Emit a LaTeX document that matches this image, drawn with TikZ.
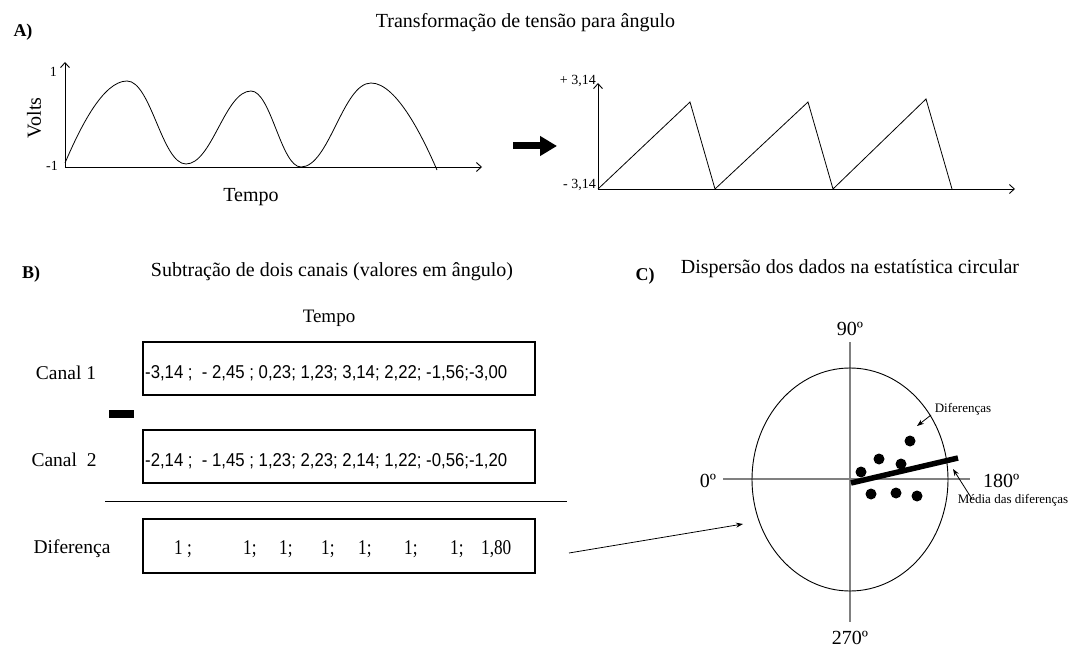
\documentclass[tikz,border=0pt]{standalone}
\usepackage{fontspec}
\setmainfont{Liberation Serif}
\newfontfamily\boxsans[FakeStretch=0.9]{Liberation Sans}
\newfontfamily\condserif[FakeStretch=0.82]{Liberation Serif}
\usetikzlibrary{arrows.meta,shapes.geometric}
\newcommand\fsz[1]{\fontsize{#1}{#1}\selectfont}
\begin{document}
\begin{tikzpicture}[x=1pt,y=-1pt,
  lbl/.style={inner sep=0pt},
  axisline/.style={line width=0.9pt,-{Straight Barb[length=5pt,width=9pt]}},
  thinline/.style={line width=0.8pt},
  databox/.style={draw, line width=1.1pt, minimum width=392pt, minimum height=53pt, inner sep=0pt},
  boxtxt/.style={inner sep=0pt, anchor=base west, font=\boxsans\fsz{18.6}},
  difftxt/.style={inner sep=0pt, anchor=base west, font=\condserif\fsz{21}},
  heading/.style={inner sep=0pt, anchor=base, font=\fsz{20}},
  panel/.style={inner sep=0pt, anchor=base, font=\bfseries\fsz{18}},
  dot/.style={circle, fill, inner sep=0pt, minimum size=11pt},
  smallarrow/.style={line width=0.8pt,-{Stealth[length=7pt,width=5pt]}},
  gaxis/.style={draw=gray, line width=1.1pt}]
\useasboundingbox (0,0) rectangle (1076,647);

% ---------- Panel A ----------
\node[panel] (labA) at (23,37) {A)};
\node[heading] (titA) at (525.5,28) {Transformação de tensão para ângulo};

% left graph
\coordinate (aO) at (65,167);
\coordinate (aY) at (65,62);
\coordinate (aX) at (482,167);
\draw[axisline] (aO) -- (aY);
\draw[axisline] (aO) -- (aX);
\node[lbl, anchor=base east, font=\fsz{14}] (one) at (57,77) {1};
\node[lbl, anchor=base east, font=\fsz{14}] (mone) at (58,171) {-1};
\node[lbl, rotate=90, font=\fsz{20}] (volts) at (34,118) {Volts};
\node[heading] (tempoA) at (251,202) {Tempo};
\draw[thinline] (65,163) .. controls (80,128) and (103,81) .. (127,81)
  .. controls (151,81) and (162,164) .. (186,164)
  .. controls (212,164) and (225,91) .. (251,91)
  .. controls (271,91) and (281,167) .. (301,167)
  .. controls (329,167) and (343,83) .. (371,83)
  .. controls (397,83) and (424,140) .. (437,170);

% thick arrow
\coordinate (tS) at (513,146);
\coordinate (tE) at (557,146);
\draw[line width=7pt, -{Triangle[length=17pt,width=19pt]}] (tS) -- (tE);

% right graph
\coordinate (bO) at (598,189);
\coordinate (bY) at (598,83);
\coordinate (bX) at (1015,189);
\draw[axisline] (bO) -- (bY);
\draw[axisline] (bO) -- (bX);
\node[lbl, anchor=base east, font=\fsz{14}] (pluspi) at (596,85) {+ 3,14};
\node[lbl, anchor=base east, font=\fsz{14}] (minuspi) at (596,189) {- 3,14};
\draw[thinline] (598,189) -- (690,102) -- (715,189) -- (808,102) -- (833,189) -- (926,99) -- (952,189);

% ---------- Panel B ----------
\node[panel] (labB) at (31,278) {B)};
\node[heading] (titB) at (332,276) {Subtração de dois canais (valores em ângulo)};
\node[heading, font=\fsz{19}] (tempoB) at (329,322) {Tempo};

\node[heading, font=\fsz{19.5}] (canal1) at (66,379) {Canal 1};
\node[heading, font=\fsz{19.5}] (canal2) at (64,466) {Canal\ \ 2};
\node[heading, font=\fsz{19.5}] (dif) at (72,553) {Diferença};

\node[databox] (box1) at (339,368.5) {};
\node[databox] (box2) at (339,456.5) {};
\node[databox, minimum height=54pt] (box3) at (339,546) {};

\node[boxtxt] (t1) at (145,378) {-3,14 ;\ \ - 2,45 ; 0,23; 1,23; 3,14; 2,22; -1,56;-3,00};
\node[boxtxt] (t2) at (145,466) {-2,14 ;\ \ - 1,45 ; 1,23; 2,23; 2,14; 1,22; -0,56;-1,20};

\node[fill, inner sep=0pt, minimum width=25pt, minimum height=8pt] (minus) at (121,414) {};
\coordinate (hlL) at (105,501);
\coordinate (hlR) at (567,501);
\draw[line width=1pt] (hlL) -- (hlR);

\node[difftxt] (d1) at (174,554) {1 ;};
\node[difftxt] (d2) at (243,554) {1;};
\node[difftxt] (d3) at (279,554) {1;};
\node[difftxt] (d4) at (321,554) {1;};
\node[difftxt] (d5) at (358,554) {1;};
\node[difftxt] (d6) at (404,554) {1;};
\node[difftxt] (d7) at (450,554) {1;};
\node[difftxt] (d8) at (481,554) {1,80};

% ---------- Panel C ----------
\node[panel] (labC) at (645,280) {C)};
\node[heading] (titC) at (850,273) {Dispersão dos dados na estatística circular};

\draw[gaxis] (850,342) -- (850,622);
\draw[gaxis] (723,479) -- (970,479);
\node[draw, ellipse, line width=0.9pt, minimum width=196pt, minimum height=223pt, inner sep=0pt] (circ) at (850,479.5) {};

\node[heading] (n90) at (850,335) {90º};
\node[heading] (n270) at (850,644) {270º};
\node[heading] (n0) at (708,487) {0º};
\node[heading, anchor=base west] (n180) at (983,487) {180º};

\coordinate (mS) at (851,483);
\coordinate (mE) at (958,458);
\draw[line width=5.5pt] (mS) -- (mE);

\node[dot] (p1) at (861,472) {};
\node[dot] (p2) at (879,459) {};
\node[dot] (p3) at (901,464) {};
\node[dot] (p4) at (910,441) {};
\node[dot] (p5) at (871,494) {};
\node[dot] (p6) at (896,493) {};
\node[dot] (p7) at (917,496) {};

\node[lbl, anchor=base, font=\fsz{13}] (ldif) at (963,412) {Diferenças};
\node[lbl, anchor=base, font=\fsz{13}] (lmed) at (1013,503) {Média das diferenças};
\coordinate (aDs) at (931,415);
\coordinate (aDe) at (917,426);
\draw[smallarrow] (aDs) -- (aDe);
\coordinate (aMs) at (972,499);
\coordinate (aMe) at (953,469);
\draw[smallarrow] (aMs) -- (aMe);

\coordinate (bigS) at (569,553);
\coordinate (bigE) at (743,524);
\draw[smallarrow] (bigS) -- (bigE);
\end{tikzpicture}
\end{document}
